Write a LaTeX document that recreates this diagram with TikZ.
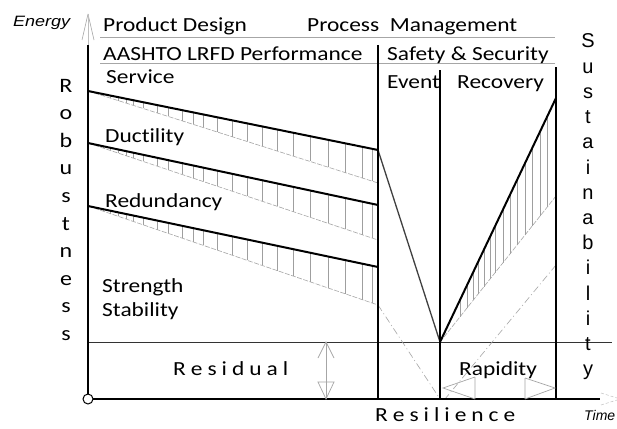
\documentclass[tikz,border=0pt]{standalone}
\usepackage{fontspec}
\setmainfont{Carlito}[FakeStretch=1.17, Ligatures=NoCommon]
\newfontfamily\arialf{Liberation Sans}[FakeStretch=1.2]
\newfontfamily\arialn{Liberation Sans}
\begin{document}
\begin{tikzpicture}[x=1pt,y=-1pt,
  thickln/.style={line width=2pt, black},
  midln/.style={line width=1.4pt, black},
  greyln/.style={line width=0.9pt, gray!70},
  hatch/.style={line width=0.5pt, gray!75},
  lowd/.style={line width=0.6pt, gray!70, dash pattern=on 5pt off 1.5pt},
  dashd/.style={line width=0.6pt, gray!70, dash pattern=on 7pt off 3pt on 1pt off 3pt},
  lab/.style={anchor=base west, inner sep=0pt, font=\fontsize{20}{24}\selectfont},
  vlet/.style={anchor=base, inner sep=0pt, font=\fontsize{20.5}{24}\selectfont},
  slet/.style={anchor=base, inner sep=0pt, font=\arialn\fontsize{20}{24}\selectfont},
  axlab/.style={anchor=base west, inner sep=0pt, font=\arialf\itshape\fontsize{15}{18}\selectfont}]
\useasboundingbox[fill=white] (0,0) rectangle (617,428);

% key points
\coordinate (O) at (88,399);
\coordinate (Ytop) at (88,45);
\coordinate (Ytip) at (88,14);
\coordinate (Xend) at (600,399);
\coordinate (s0) at (88,91);  \coordinate (s1) at (378,150); \coordinate (s2) at (378,183);
\coordinate (d0) at (88,143); \coordinate (d1) at (378,205); \coordinate (d2) at (378,240);
\coordinate (r0) at (88,206); \coordinate (r1) at (378,267); \coordinate (r2) at (378,305);
\coordinate (V) at (440,342);
\coordinate (E1) at (556,98);
\coordinate (E2) at (556,196);
\coordinate (E3) at (556,265);
\coordinate (B) at (440,399);
\coordinate (B2) at (445,399);

% header grey lines
\draw[greyln] (100,37) -- (555,37);
\draw[greyln] (100,63) -- (555,63);

% residual line
\draw[line width=0.8pt, black!80] (88,342) -- (612,342);

% hatches
\foreach \x in {96,103,110,118,126,133,143,157,168,182,193,203,217,232,247,262,277,293,310,328,345,362,372} {
  \pgfmathsetmacro\t{(\x-88)/290}
  \draw[hatch] (\x,{91+59*\t}) -- (\x,{91+92*\t});
  \draw[hatch] (\x,{143+62*\t}) -- (\x,{143+97*\t});
  \draw[hatch] (\x,{206+61*\t}) -- (\x,{206+99*\t});
}
\foreach \x in {460,467,473,478,484,490,495,503,510,517,525,532,540,547} {
  \pgfmathsetmacro\t{(\x-440)/116}
  \draw[hatch] (\x,{342-244*\t}) -- (\x,{342-146*\t});
}

% lower dashed lines
\draw[lowd] (s0) -- (s2);
\draw[lowd] (d0) -- (d2);
\draw[lowd] (r0) -- (r2);
\draw[lowd] (V) -- (E2);
\draw[dashd] (r2) -- (B);
\draw[dashd] (E3) -- (B2);

% thick strength lines
\draw[thickln] (s0) -- (s1);
\draw[thickln] (d0) -- (d1);
\draw[thickln] (r0) -- (r1);
\draw[line width=1.3pt, black!75] (s1) -- (V);
\draw[thickln] (V) -- (E1);

% verticals
\draw[thickln] (378,45) -- (378,399);
\draw[midln] (440,70) -- (440,399);
\draw[midln] (556,67) -- (556,399);

% axes
\draw[line width=0.6pt, gray!70] (Ytip) -- (82,40) (Ytip) -- (94,40);
\draw[line width=0.4pt, gray!50] (Ytip) -- (Ytop);
\draw[thickln] (Ytop) -- (O);
\draw[thickln] (O) -- (Xend);
\draw[line width=0.5pt, gray!50, dash pattern=on 3pt off 2pt] (601,393) -- (617,398) (601,405) -- (617,400);
\draw[line width=1pt, black, fill=white] (O) circle (5pt);

% residual arrow
\draw[greyln, line width=0.7pt] (326,342) -- (326,399);
\draw[greyln, line width=0.7pt] (318,358) -- (326,342) -- (334,358);
\draw[greyln, line width=0.7pt] (318,382) -- (326,399) -- (334,382) -- cycle;

% rapidity arrow heads
\draw[greyln, line width=0.7pt] (475,377) -- (443,388) -- (475,399) (475,377) -- (475,399);
\draw[greyln, line width=0.7pt] (525,378) -- (555,388) -- (525,399) (525,378) -- (525,399);

% labels
\node[axlab] (en) at (13,27) {Energy};
\node[anchor=base west, inner sep=0pt, font=\arialn\itshape\fontsize{14}{16}\selectfont] (tm) at (584,420) {Time};
\node[lab] (pd) at (103,32) {Product Design};
\node[lab] (pm) at (307,32) {Process\ \ Management};
\node[lab] (aa) at (103,60) {AASHTO LRFD Performance};
\node[lab] (ss) at (387,60) {Safety \& Security};
\node[lab] (sv) at (106,83) {Service};
\node[lab] (ev) at (387,88) {Event};
\node[lab] (rc) at (457,88) {Recovery};
\node[lab] (du) at (105,142) {Ductility};
\node[lab] (rd) at (105,207) {Redundancy};
\node[lab] (st) at (102,292) {Strength};
\node[lab] (sb) at (102,316) {Stability};
\node[lab] (rs) at (173,375) {R\hspace{5pt}e\hspace{5pt}s\hspace{5pt}i\hspace{5pt}d\hspace{5pt}u\hspace{5pt}a\hspace{5pt}l};
\node[lab] (rp) at (459,375) {Rapidity};
\node[lab] (rl) at (375,421) {R\hspace{5pt}e\hspace{5pt}s\hspace{5pt}i\hspace{5pt}l\hspace{5pt}i\hspace{5pt}e\hspace{5pt}n\hspace{5pt}c\hspace{5pt}e};

\foreach \l [count=\i from 0] in {R,o,b,u,s,t,n,e,s,s}
  \node[vlet] (rb\i) at (66,{92+27.6*\i}) {\l};
\foreach \l [count=\i from 0] in {S,u,s,t,a,i,n,a,b,i,l,i,t,y}
  \node[slet] (su\i) at (588,{48+25.2*\i}) {\l};
\end{tikzpicture}
\end{document}
